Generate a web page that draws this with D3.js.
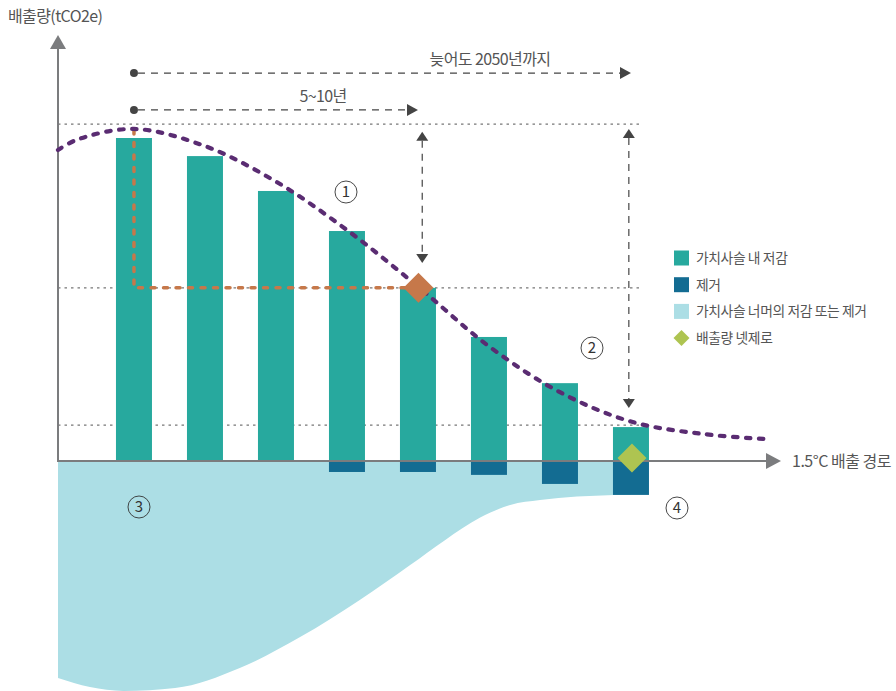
<!DOCTYPE html>
<html>
<head>
<meta charset="utf-8">
<script src="https://cdn.jsdelivr.net/npm/d3@7"></script>
<style>
  html, body { margin: 0; padding: 0; background: #fff; }
  svg { display: block; font-family: "Noto Sans CJK KR", "Noto Sans", sans-serif; }
</style>
</head>
<body>
<svg id="chart" width="896" height="691"></svg>
<script>
// Periods along the 1.5°C pathway (bar positions)
const periods = [1, 2, 3, 4, 5, 6, 7, 8];
// Reductions within the value chain (relative emissions units)
const reductions = [100, 94.4, 83.6, 71.2, 53.6, 38.4, 24.1, 10.5];
// Removals (negative emissions)
const removals = [0, 0, 0, -3.4, -3.4, -4.3, -7.1, -10.5];

// Emissions trajectory (dashed curve): position, value
const trajT = [-0.07, 0.2, 1.0, 2.0, 3.0, 4.0, 5.0, 6.0, 7.0, 8.0, 9.0, 9.89];
const trajV = [96.3, 99.5, 102.8, 97.5, 86.5, 71.5, 54.0, 35.5, 21.3, 12.2, 8.4, 6.8];

// Beyond value chain mitigation / removals (lower edge of the shaded area)
const bvcmT = [-0.07, 0.38, 0.85, 1.58, 2.49, 3.34, 4.18, 4.89, 5.38, 5.87, 6.30, 6.72, 7.76, 8.0];
const bvcmV = [-67.2, -70.0, -71.2, -70.3, -64.1, -54.5, -43.0, -32.2, -24.5, -17.6, -13.6, -12.1, -10.5, -10.4];

// Reference levels (dotted lines)
const refLevels = [104.3, 53.6, 11.1];

// Milestones
const milestoneT = 5;       // near-term target (5~10년)
const milestoneV = 53.6;
const netZeroT = 8;         // net zero (2050)
const netZeroV = 0.9;

// Legend
const legendLabels = ["가치사슬 내 저감", "제거", "가치사슬 너머의 저감 또는 제거", "배출량 넷제로"];
const legendColors = ["#27a99e", "#136c92", "#acdee5", "#aec451"];

const colTeal = "#27a99e", colNavy = "#136c92", colLight = "#acdee5";
const colPurple = "#5a2c72", colOrange = "#c6784a", colGreen = "#aec451";
const colAxis = "#7b7c7e", colText = "#555";

const svg = d3.select("#chart");

const x = d3.scaleLinear().domain([-0.07, 9.93]).range([58, 768]);
const y = d3.scaleLinear().domain([0, 100]).range([461, 138]);
const barW = 36;

// Shaded area beyond value chain
const bvcm = bvcmT.map((t, i) => ({ t, v: bvcmV[i] }));
svg.append("path")
  .datum(bvcm)
  .attr("fill", colLight)
  .attr("d", d3.area()
    .x(d => x(d.t))
    .y0(y(0))
    .y1(d => y(d.v))
    .curve(d3.curveMonotoneX));

// Dotted reference lines
svg.selectAll("line.ref")
  .data(refLevels)
  .join("line")
  .attr("class", "ref")
  .attr("x1", x(-0.07)).attr("x2", x(8.15))
  .attr("y1", d => y(d)).attr("y2", d => y(d))
  .attr("stroke", "#777").attr("stroke-width", 1.2)
  .attr("stroke-dasharray", "2.5,4");

// Reduction bars
svg.selectAll("rect.red")
  .data(periods)
  .join("rect")
  .attr("class", "red")
  .attr("x", (d) => x(d) - barW / 2)
  .attr("width", barW)
  .attr("y", (d, i) => y(reductions[i]))
  .attr("height", (d, i) => y(0) - y(reductions[i]))
  .attr("fill", colTeal);

// Removal bars
svg.selectAll("rect.rem")
  .data(periods.filter((d, i) => removals[i] < 0))
  .join("rect")
  .attr("class", "rem")
  .attr("x", d => x(d) - barW / 2)
  .attr("width", barW)
  .attr("y", y(0))
  .attr("height", d => y(removals[d - 1]) - y(0))
  .attr("fill", colNavy);

// Axes
const axisG = svg.append("g");
const x0 = x(-0.07), yBase = y(0);
const yTop = 49, xEnd = x(9.93) - 2;
axisG.append("line").attr("x1", x0).attr("x2", x0).attr("y1", yTop).attr("y2", yBase + 1)
  .attr("stroke", colAxis).attr("stroke-width", 2);
axisG.append("line").attr("x1", x0 - 1).attr("x2", xEnd).attr("y1", yBase).attr("y2", yBase)
  .attr("stroke", colAxis).attr("stroke-width", 2);
axisG.append("path")
  .attr("d", `M${x0},${yTop - 14} L${x0 + 8},${yTop} L${x0 - 8},${yTop} Z`)
  .attr("fill", colAxis);
axisG.append("path")
  .attr("d", `M${xEnd + 15},${yBase} L${xEnd},${yBase - 8} L${xEnd},${yBase + 8} Z`)
  .attr("fill", colAxis);

// Orange dashed guide to the near-term milestone
const peakIdx = 0;
svg.append("path")
  .attr("d", `M${x(periods[peakIdx])},${y(102.5)} L${x(periods[peakIdx])},${y(milestoneV)} L${x(milestoneT)},${y(milestoneV)}`)
  .attr("fill", "none")
  .attr("stroke", colOrange).attr("stroke-width", 3.5)
  .attr("stroke-linecap", "round")
  .attr("stroke-dasharray", "4,8.5");

// Emissions trajectory
const traj = trajT.map((t, i) => ({ t, v: trajV[i] }));
svg.append("path")
  .datum(traj)
  .attr("fill", "none")
  .attr("stroke", colPurple).attr("stroke-width", 4.2)
  .attr("stroke-linecap", "round")
  .attr("stroke-dasharray", "4.5,8.5")
  .attr("d", d3.line().x(d => x(d.t)).y(d => y(d.v)).curve(d3.curveCatmullRom.alpha(0.5)));

// Milestone diamonds
function diamond(cx, cy, r, fill) {
  svg.append("path")
    .attr("d", `M${cx},${cy - r} L${cx + r},${cy} L${cx},${cy + r} L${cx - r},${cy} Z`)
    .attr("fill", fill);
}
diamond(x(milestoneT) + 0.5, y(milestoneV), 15, colOrange);
diamond(x(netZeroT) + 1, y(netZeroV), 14.5, colGreen);

// Timeline arrows
const arrowCol = "#444";
function hArrow(t0, t1, v) {
  const yy = y(v), xa = x(t0), xb = x(t1);
  svg.append("circle").attr("cx", xa).attr("cy", yy).attr("r", 4).attr("fill", arrowCol);
  svg.append("line").attr("x1", xa + 4).attr("x2", xb - 10).attr("y1", yy).attr("y2", yy)
    .attr("stroke", arrowCol).attr("stroke-width", 1.2).attr("stroke-dasharray", "7,6");
  svg.append("path").attr("d", `M${xb},${yy} L${xb - 11},${yy - 6} L${xb - 11},${yy + 6} Z`).attr("fill", arrowCol);
}
function vArrow(t, v0, v1) {
  const xx = x(t), ya = y(v0), yb = y(v1);
  svg.append("line").attr("x1", xx).attr("x2", xx).attr("y1", ya + 9).attr("y2", yb - 9)
    .attr("stroke", arrowCol).attr("stroke-width", 1.2).attr("stroke-dasharray", "7,6");
  svg.append("path").attr("d", `M${xx},${ya} L${xx - 6},${ya + 9} L${xx + 6},${ya + 9} Z`).attr("fill", arrowCol);
  svg.append("path").attr("d", `M${xx},${yb} L${xx - 6},${yb - 9} L${xx + 6},${yb - 9} Z`).attr("fill", arrowCol);
}
hArrow(1, 8.0, 120.1);
hArrow(1, 5.0, 108.7);
vArrow(5.06, 101.9, 61.3);
vArrow(7.97, 102.8, 16.4);

// Texts
svg.append("text").attr("x", 8).attr("y", 22).attr("fill", colText)
  .attr("font-size", 16).attr("letter-spacing", -0.6).text("배출량(tCO2e)");
svg.append("text").attr("x", 490).attr("y", 65).attr("text-anchor", "middle").attr("fill", colText)
  .attr("font-size", 16).attr("letter-spacing", -0.6).text("늦어도 2050년까지");
svg.append("text").attr("x", 323).attr("y", 102).attr("text-anchor", "middle").attr("fill", colText)
  .attr("font-size", 16).attr("letter-spacing", -0.6).text("5~10년");
svg.append("text").attr("x", 792).attr("y", 467).attr("fill", colText)
  .attr("font-size", 16).attr("letter-spacing", -0.5).text("1.5°C 배출 경로");

// Circled callouts
const callouts = [["1", 346, 192], ["2", 592, 348], ["3", 139, 507], ["4", 677, 508]];
const cg = svg.selectAll("g.callout").data(callouts).join("g").attr("class", "callout")
  .attr("transform", d => `translate(${d[1]},${d[2]})`);
cg.append("circle").attr("r", 11).attr("fill", "none").attr("stroke", "#333").attr("stroke-width", 0.9);
cg.append("text").attr("text-anchor", "middle").attr("dy", "0.36em").attr("font-size", 15)
  .attr("fill", "#333").text(d => d[0]);

// Legend
const lg = svg.append("g").attr("transform", "translate(674,258)");
const items = lg.selectAll("g").data(legendLabels).join("g")
  .attr("transform", (d, i) => `translate(0,${i * 26.7})`);
items.each(function (d, i) {
  const g = d3.select(this);
  if (i < 3) {
    g.append("rect").attr("x", 0).attr("y", -7.5).attr("width", 15).attr("height", 15).attr("fill", legendColors[i]);
  } else {
    g.append("path").attr("d", "M7.5,-8 L15.5,0 L7.5,8 L-0.5,0 Z").attr("fill", legendColors[i]);
  }
  g.append("text").attr("x", 22).attr("dy", "0.35em").attr("font-size", 13.8)
    .attr("letter-spacing", -0.4).attr("fill", colText).text(d);
});
</script>
</body>
</html>
